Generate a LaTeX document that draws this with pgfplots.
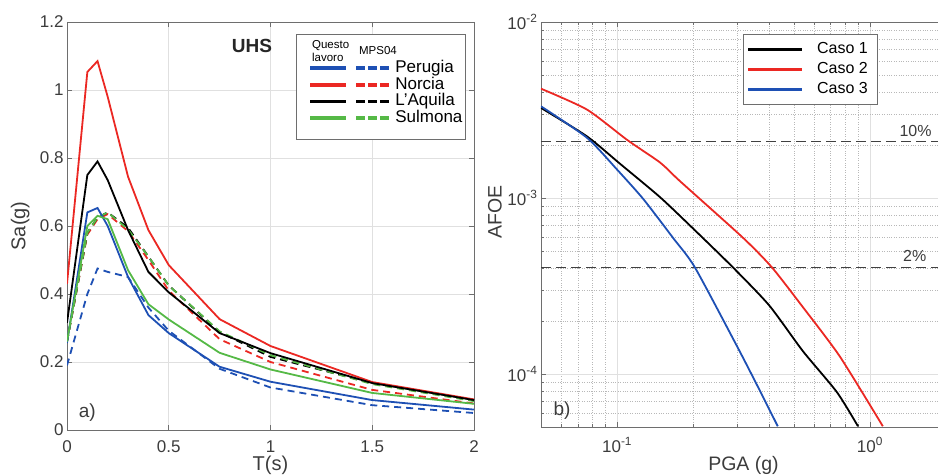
\documentclass[border=0pt]{standalone}
\usepackage{pgfplots}
\pgfplotsset{compat=1.18}
\usepackage{fontspec}
\setmainfont{Liberation Sans}

\definecolor{cblue}{RGB}{30,80,180}
\definecolor{cred}{RGB}{235,40,35}
\definecolor{cgreen}{RGB}{85,185,70}
\definecolor{axgray}{RGB}{110,110,110}
\definecolor{txgray}{RGB}{60,60,60}

\tikzset{hdr/.style={anchor=west, inner sep=0pt, text height=8.3pt, text depth=0.5pt,
    font=\fontsize{11.5}{11.5}\selectfont, text=black}}

\pgfplotsset{
  matlab/.style={
    scale only axis,
    axis line style={axgray, line width=0.7pt},
    every tick/.style={axgray, line width=0.6pt},
    major tick length=5pt, minor tick length=3pt,
    tick label style={font=\fontsize{17}{17}\selectfont, text=txgray},
    xticklabel style={yshift=-7pt},
    /pgf/number format/assume math mode=true,
    major grid style={black!12, line width=0.6pt},
    minor grid style={black!28, dotted, line width=0.6pt},
  },
  % legend image: solid bar (this work) and dashed bar (MPS04), drawn as fills
  pairimg/.style={legend image code/.code={%
    \fill[##1] (13pt,-0.9pt) rectangle (47pt,0.9pt);
    \fill[##1] (59pt,-0.9pt) rectangle (66pt,0.9pt);
    \fill[##1] (71pt,-0.9pt) rectangle (78pt,0.9pt);
    \fill[##1] (83pt,-0.9pt) rectangle (90pt,0.9pt);}},
  pairimgfirst/.style={legend image code/.code={%
    \path (0pt,32pt);
    \node[hdr] at (13pt,24pt) {Questo};
    \node[hdr] at (13pt,11pt) {lavoro};
    \node[hdr] at (60pt,18pt) {MPS04};
    \fill[##1] (13pt,-0.9pt) rectangle (47pt,0.9pt);
    \fill[##1] (59pt,-0.9pt) rectangle (66pt,0.9pt);
    \fill[##1] (71pt,-0.9pt) rectangle (78pt,0.9pt);
    \fill[##1] (83pt,-0.9pt) rectangle (90pt,0.9pt);}},
  pairimglast/.style={legend image code/.code={%
    \path (0pt,-19pt);
    \fill[##1] (13pt,-0.9pt) rectangle (47pt,0.9pt);
    \fill[##1] (59pt,-0.9pt) rectangle (66pt,0.9pt);
    \fill[##1] (71pt,-0.9pt) rectangle (78pt,0.9pt);
    \fill[##1] (83pt,-0.9pt) rectangle (90pt,0.9pt);}},
  sdash/.style={dash pattern=on 7pt off 5pt},
}

\begin{document}
\begin{tikzpicture}

% a) UHS spectra
\begin{axis}[matlab,
  at={(67pt,45pt)}, anchor=south west,
  width=407pt, height=408pt,
  xmin=0, xmax=2, ymin=0, ymax=1.2,
  xtick={0,0.5,1,1.5,2},
  ytick={0,0.2,0.4,0.6,0.8,1,1.2},
  xticklabels={0,0.5,1,1.5,2},
  yticklabels={0,0.2,0.4,0.6,0.8,1,1.2},
  grid=major,
  xlabel={T(s)}, ylabel={Sa(g)},
  every axis x label/.style={at={(axis description cs:0.5,-0.064)}, anchor=north, inner sep=0pt,
    font=\fontsize{20}{20}\selectfont, text=txgray},
  every axis y label/.style={at={(axis description cs:-0.115,0.5)}, rotate=90, anchor=center, inner sep=0pt,
    font=\fontsize{20}{20}\selectfont, text=txgray},
  legend cell align=left,
  legend style={at={(axis description cs:0.5627,0.9706)}, anchor=north west,
    draw=axgray, line width=0.6pt, font=\fontsize{17}{17}\selectfont,
    inner xsep=1pt, inner ysep=1pt, row sep=0pt,
    nodes={inner xsep=1.5pt, inner ysep=0.5pt, text height=12pt, text depth=3.7pt},
    /tikz/every odd column/.style={column sep=-3pt}},
]
% MPS04 (dashed)
\addplot[cblue, line width=1.8pt, sdash, forget plot] coordinates {
(0,0.19)(0.1,0.40)(0.15,0.475)(0.2,0.465)(0.3,0.45)(0.4,0.36)(0.5,0.292)(0.75,0.18)(1,0.125)(1.5,0.073)(2,0.05)};
\addplot[cred, line width=1.8pt, sdash, forget plot] coordinates {
(0,0.26)(0.1,0.575)(0.15,0.62)(0.2,0.635)(0.3,0.585)(0.4,0.50)(0.5,0.41)(0.75,0.267)(1,0.20)(1.5,0.118)(2,0.078)};
\addplot[black, line width=1.8pt, sdash, forget plot] coordinates {
(0,0.26)(0.1,0.58)(0.15,0.625)(0.2,0.64)(0.3,0.595)(0.4,0.51)(0.5,0.425)(0.75,0.288)(1,0.215)(1.5,0.138)(2,0.088)};
\addplot[cgreen, line width=1.8pt, sdash, forget plot] coordinates {
(0,0.26)(0.1,0.58)(0.15,0.625)(0.2,0.64)(0.3,0.59)(0.4,0.51)(0.5,0.425)(0.75,0.29)(1,0.22)(1.5,0.135)(2,0.085)};

% Questo lavoro (solid), carrying the legend
\addplot[cblue, line width=1.8pt, pairimgfirst] coordinates {
(0,0.256)(0.1,0.64)(0.15,0.653)(0.2,0.60)(0.3,0.45)(0.4,0.338)(0.5,0.285)(0.75,0.186)(1,0.142)(1.5,0.088)(2,0.06)};
\addlegendentry{Perugia}
\addplot[cred, line width=1.8pt, pairimg] coordinates {
(0,0.43)(0.1,1.053)(0.15,1.085)(0.2,0.98)(0.3,0.745)(0.4,0.588)(0.5,0.485)(0.75,0.326)(1,0.247)(1.5,0.141)(2,0.09)};
\addlegendentry{Norcia}
\addplot[black, line width=1.8pt, pairimg] coordinates {
(0,0.315)(0.1,0.75)(0.15,0.79)(0.2,0.735)(0.3,0.588)(0.4,0.465)(0.5,0.405)(0.75,0.285)(1,0.226)(1.5,0.138)(2,0.088)};
\addlegendentry{L'Aquila}
\addplot[cgreen, line width=1.8pt, pairimglast] coordinates {
(0,0.26)(0.1,0.60)(0.15,0.63)(0.2,0.62)(0.3,0.47)(0.4,0.37)(0.5,0.325)(0.75,0.227)(1,0.178)(1.5,0.109)(2,0.077)};
\addlegendentry{Sulmona}

\node[font=\bfseries\fontsize{19}{19}\selectfont, text=black!85] at (rel axis cs:0.4545,0.941) {UHS};
\node[font=\fontsize{19}{19}\selectfont, text=txgray] at (rel axis cs:0.05,0.042) {a)};
\end{axis}

% b) hazard curves
\begin{axis}[matlab,
  at={(541pt,48pt)}, anchor=south west,
  width=405pt, height=405pt,
  xmode=log, ymode=log,
  xmin=0.05, xmax=2, ymin=5e-5, ymax=1e-2,
  xtick={0.1,1}, xticklabels={10\textsuperscript{-1},10\textsuperscript{0}},
  ytick={1e-4,1e-3,1e-2}, yticklabels={10\textsuperscript{-4},10\textsuperscript{-3},10\textsuperscript{-2}},
  minor xtick={0.05,0.06,0.07,0.08,0.09,0.2,0.3,0.4,0.5,0.6,0.7,0.8,0.9,2},
  minor ytick={6e-5,7e-5,8e-5,9e-5,2e-4,3e-4,4e-4,5e-4,6e-4,7e-4,8e-4,9e-4,2e-3,3e-3,4e-3,5e-3,6e-3,7e-3,8e-3,9e-3},
  grid=both,
  xlabel={PGA (g)}, ylabel={AFOE},
  every axis x label/.style={at={(axis description cs:0.5,-0.072)}, anchor=north, inner sep=0pt,
    font=\fontsize{19.5}{19.5}\selectfont, text=txgray},
  every axis y label/.style={at={(axis description cs:-0.114,0.53)}, rotate=90, anchor=center, inner sep=0pt,
    font=\fontsize{19.5}{19.5}\selectfont, text=txgray},
  legend cell align=left,
  legend image code/.code={\fill[#1] (0pt,-0.9pt) rectangle (52pt,0.9pt);},
  legend style={at={(axis description cs:0.4988,0.9704)}, anchor=north west,
    draw=axgray, line width=0.6pt, font=\fontsize{16}{16}\selectfont,
    inner xsep=5pt, inner ysep=5pt, row sep=0pt,
    nodes={inner xsep=4pt, inner ysep=2pt, text height=12pt, text depth=4pt},
    /tikz/every odd column/.style={column sep=11pt}},
]
\addplot[black!75, line width=0.8pt, dash pattern=on 10pt off 5pt, forget plot] coordinates {(0.05,2.105e-3)(2,2.105e-3)};
\addplot[black!75, line width=0.8pt, dash pattern=on 10pt off 5pt, forget plot] coordinates {(0.05,4.04e-4)(2,4.04e-4)};

\addplot[black, line width=1.8pt, smooth, tension=0.4] coordinates {
(0.05,3.25e-3)(0.076,2.24e-3)(0.103,1.56e-3)(0.148,1.01e-3)(0.2,6.7e-4)(0.287,4.04e-4)(0.4,2.45e-4)(0.543,1.35e-4)(0.74,7.9e-5)(0.897,5.05e-5)};
\addlegendentry{Caso 1}
\addplot[cred, line width=1.8pt, smooth, tension=0.4] coordinates {
(0.05,4.18e-3)(0.076,3.18e-3)(0.11,2.13e-3)(0.148,1.59e-3)(0.177,1.25e-3)(0.315,5.94e-4)(0.41,4.03e-4)(0.543,2.4e-4)(0.76,1.26e-4)(1.125,5.05e-5)};
\addlegendentry{Caso 2}
\addplot[cblue, line width=1.8pt, smooth, tension=0.4] coordinates {
(0.05,3.32e-3)(0.076,2.2e-3)(0.1,1.45e-3)(0.127,9.86e-4)(0.167,5.9e-4)(0.203,4.04e-4)(0.298,1.44e-4)(0.36,8.5e-5)(0.432,5.05e-5)};
\addlegendentry{Caso 3}

\node[anchor=east, font=\fontsize{16}{16}\selectfont, text=txgray] at (rel axis cs:0.973,0.731) {10\%};
\node[anchor=east, font=\fontsize{16}{16}\selectfont, text=txgray] at (rel axis cs:0.96,0.422) {2\%};
\node[font=\fontsize{19}{19}\selectfont, text=txgray] at (rel axis cs:0.052,0.04) {b)};
\end{axis}

\pgfresetboundingbox
\useasboundingbox (0,0) rectangle (938pt,475pt);
\end{tikzpicture}
\end{document}
